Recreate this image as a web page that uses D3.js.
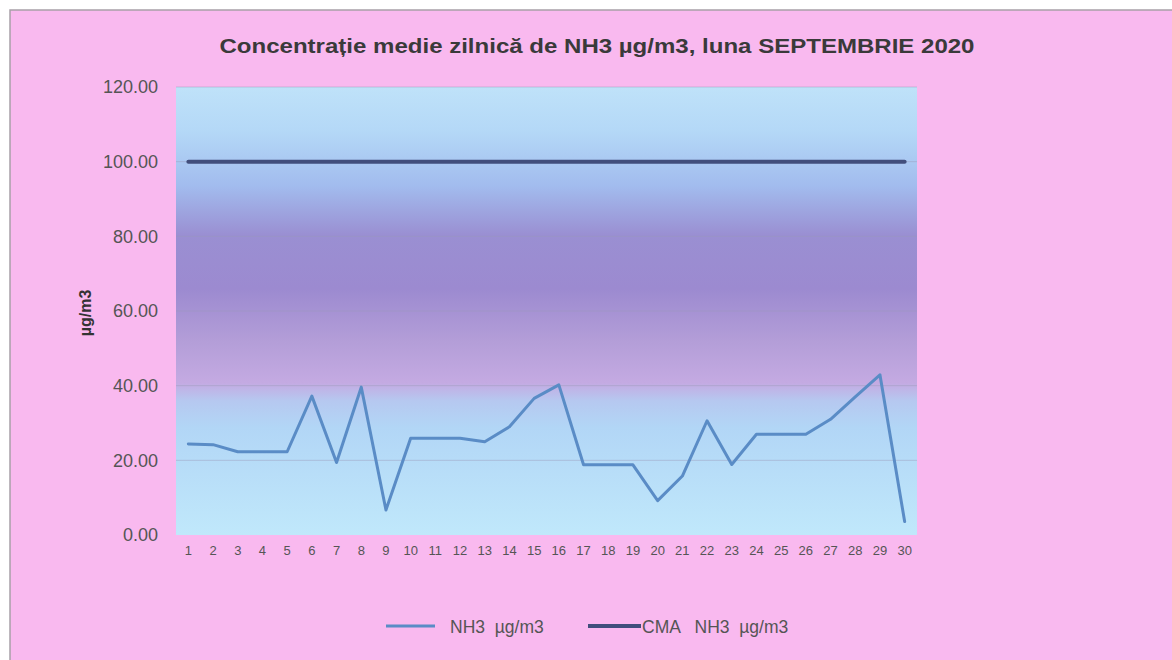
<!DOCTYPE html>
<html><head><meta charset="utf-8">
<script src="https://cdn.jsdelivr.net/npm/d3@7"></script>
<style>body{margin:0;background:#fff;}svg{display:block;font-family:"Liberation Sans",Arial,sans-serif;}</style>
</head><body>
<svg id="c" width="1172" height="660"></svg>
<script>
const days = d3.range(1,31).map(String);
const nh3 = [24.4,24.2,22.3,22.3,22.3,37.2,19.4,39.6,6.7,25.9,25.9,25.9,25.0,29.0,36.6,40.2,18.8,18.8,18.8,9.2,15.8,30.6,18.9,27.0,27.0,27.0,31.0,37.0,42.9,3.6];
const cma = days.map(()=>100);
const yTicks = [0,20,40,60,80,100,120];
const title = "Concentrație medie zilnică de NH3 µg/m3, luna SEPTEMBRIE 2020";
const yTitle = "µg/m3";
const legendLabels = ["NH3  µg/m3","CMA   NH3  µg/m3"];

const svg = d3.select("#c");
svg.append("rect").attr("x",10).attr("y",10).attr("width",1170).attr("height",660).attr("fill","#f9b9ef").attr("stroke","#a8a0a8").attr("stroke-width",1.5);

const m = {l:176, r:917, t:87, b:535};
const x = d3.scaleBand().domain(days).range([m.l,m.r]);
const y = d3.scaleLinear().domain([0,120]).range([m.b,m.t]);

const defs = svg.append("defs");
const g = defs.append("linearGradient").attr("id","bg").attr("x1",0).attr("x2",0).attr("y1",0).attr("y2",1);
[[0,"#bfe2f9"],[0.1,"#b4d8f7"],[0.22,"#a2bcee"],[0.33,"#9a8fd2"],[0.45,"#9c8ad0"],[0.57,"#b49ed8"],[0.66,"#c4aae2"],[0.7,"#b6c8f0"],[0.76,"#b2d6f6"],[1,"#c0e8fb"]]
  .forEach(([o,c])=>g.append("stop").attr("offset",o).attr("stop-color",c));
svg.append("rect").attr("x",m.l).attr("y",m.t).attr("width",m.r-m.l).attr("height",m.b-m.t).attr("fill","url(#bg)");

// gridlines
svg.append("g").selectAll("line").data(yTicks.filter(d=>d>0)).join("line")
  .attr("x1",m.l).attr("x2",m.r).attr("y1",d=>y(d)).attr("y2",d=>y(d))
  .attr("stroke","#9a9ab8").attr("stroke-opacity",0.45).attr("stroke-width",1);

// y axis labels
const ya = svg.append("g").attr("transform",`translate(${m.l-15},0)`)
  .call(d3.axisLeft(y).tickValues(yTicks).tickFormat(d3.format(".2f")).tickSize(0));
ya.select(".domain").remove();
ya.selectAll("text").attr("font-size",18).attr("fill","#555").attr("font-family","Liberation Sans, Arial").attr("dx",0);

// x axis labels
const xa = svg.append("g").attr("transform",`translate(0,${m.b+8})`)
  .call(d3.axisBottom(x).tickSize(0));
xa.select(".domain").remove();
xa.selectAll("text").attr("font-size",13).attr("fill","#555").attr("font-family","Liberation Sans, Arial");

const line = d3.line().x((d,i)=>x(days[i])+x.bandwidth()/2).y(d=>y(d));
svg.append("path").datum(cma).attr("d",line).attr("fill","none").attr("stroke","#414e7c").attr("stroke-width",4).attr("stroke-linecap","round");
svg.append("path").datum(nh3).attr("d",line).attr("fill","none").attr("stroke","#5a8cc6").attr("stroke-width",3).attr("stroke-linejoin","round").attr("stroke-linecap","round");

svg.append("text").attr("x",597).attr("y",53).attr("text-anchor","middle").attr("font-size",21).attr("font-weight","bold").attr("fill","#3a3a3a")
  .attr("textLength",755).attr("lengthAdjust","spacingAndGlyphs").text(title);
svg.append("text").attr("transform","translate(91,313) rotate(-90)").attr("text-anchor","middle").attr("font-size",16).attr("font-weight","bold").attr("fill","#333").text(yTitle);

// legend
const lg = svg.append("g");
lg.append("line").attr("x1",386).attr("x2",435).attr("y1",626).attr("y2",626).attr("stroke","#5a8cc6").attr("stroke-width",3);
lg.append("text").attr("x",450).attr("y",633).attr("font-size",17.5).attr("fill","#555").style("white-space","pre").text(legendLabels[0]);
lg.append("line").attr("x1",588).attr("x2",641).attr("y1",626).attr("y2",626).attr("stroke","#414e7c").attr("stroke-width",4);
lg.append("text").attr("x",642).attr("y",633).attr("font-size",17.5).attr("fill","#555").style("white-space","pre").text(legendLabels[1]);
</script>
</body></html>
